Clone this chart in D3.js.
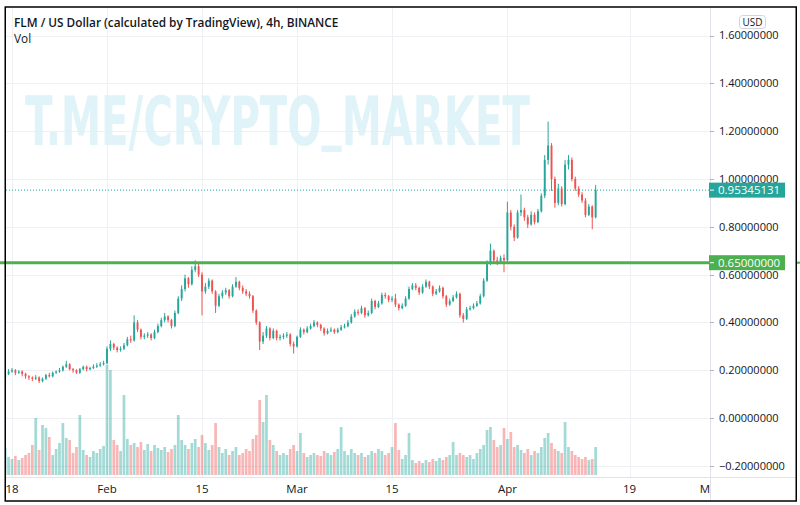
<!DOCTYPE html>
<html><head><meta charset="utf-8">
<script src="https://cdn.jsdelivr.net/npm/d3@7"></script>
<style>html,body{margin:0;padding:0;background:#fff;}svg{display:block;}</style>
</head><body><svg id="c" width="800" height="505"></svg>
<script>
// ---- data (12h candles) ----
const startDate = "2021-01-17T00:00:00Z";
const firstOpen = 0.17;
const closes = [
0.185,0.195,0.20,0.19,0.195,0.185,0.175,0.17,0.165,0.17,
0.155,0.165,0.18,0.175,0.19,0.195,0.20,0.215,0.225,0.205,
0.20,0.19,0.205,0.215,0.205,0.21,0.215,0.22,0.225,0.23,
0.29,0.31,0.295,0.285,0.29,0.305,0.33,0.325,0.40,0.37,
0.34,0.345,0.35,0.335,0.36,0.385,0.41,0.425,0.41,0.385,
0.44,0.50,0.54,0.585,0.56,0.62,0.635,0.60,0.53,0.55,
0.575,0.53,0.47,0.51,0.525,0.535,0.51,0.55,0.57,0.545,
0.53,0.52,0.51,0.45,0.40,0.32,0.345,0.375,0.335,0.365,
0.335,0.34,0.345,0.35,0.31,0.30,0.34,0.37,0.36,0.375,
0.385,0.40,0.39,0.375,0.355,0.365,0.37,0.36,0.37,0.38,
0.385,0.40,0.425,0.445,0.44,0.46,0.43,0.44,0.49,0.465,
0.48,0.515,0.51,0.495,0.50,0.475,0.46,0.47,0.50,0.54,
0.555,0.545,0.525,0.55,0.57,0.55,0.52,0.53,0.545,0.51,
0.475,0.49,0.505,0.52,0.43,0.415,0.455,0.46,0.47,0.48,
0.51,0.575,0.65,0.70,0.66,0.655,0.67,0.66,0.86,0.80,
0.755,0.86,0.87,0.84,0.81,0.85,0.82,0.865,0.93,1.08,
1.14,1.00,0.90,0.96,0.895,1.06,1.08,1.00,0.96,0.935,
0.91,0.85,0.885,0.84,0.95345131];
const highs = [
0.20,0.205,0.21,0.205,0.20,0.20,0.19,0.18,0.175,0.18,
0.175,0.17,0.185,0.19,0.195,0.20,0.21,0.22,0.24,0.23,
0.21,0.205,0.21,0.22,0.22,0.215,0.225,0.23,0.235,0.24,
0.30,0.325,0.315,0.30,0.30,0.315,0.34,0.345,0.43,0.41,
0.375,0.355,0.36,0.355,0.37,0.395,0.42,0.44,0.43,0.415,
0.45,0.51,0.555,0.60,0.59,0.635,0.66,0.645,0.61,0.565,
0.585,0.58,0.535,0.52,0.535,0.545,0.54,0.56,0.59,0.575,
0.555,0.54,0.53,0.515,0.455,0.405,0.36,0.385,0.38,0.375,
0.37,0.35,0.355,0.36,0.355,0.32,0.345,0.38,0.375,0.385,
0.395,0.41,0.405,0.395,0.38,0.375,0.38,0.375,0.378,0.39,
0.395,0.41,0.435,0.455,0.455,0.47,0.465,0.45,0.50,0.495,
0.49,0.525,0.525,0.515,0.51,0.52,0.48,0.48,0.51,0.55,
0.565,0.565,0.55,0.56,0.58,0.575,0.555,0.54,0.555,0.55,
0.515,0.50,0.515,0.53,0.525,0.44,0.465,0.47,0.48,0.49,
0.52,0.585,0.66,0.73,0.705,0.675,0.68,0.685,0.905,0.87,
0.81,0.87,0.935,0.88,0.85,0.865,0.86,0.875,0.94,1.10,
1.24,1.15,1.01,0.98,0.97,1.08,1.10,1.09,1.01,0.97,
0.945,0.92,0.895,0.89,0.975];
const lows = [
0.165,0.18,0.19,0.18,0.185,0.175,0.165,0.16,0.155,0.16,
0.147,0.15,0.16,0.17,0.17,0.185,0.19,0.195,0.21,0.20,
0.19,0.185,0.185,0.20,0.195,0.20,0.205,0.21,0.215,0.22,
0.225,0.28,0.285,0.275,0.278,0.285,0.30,0.315,0.32,0.36,
0.33,0.33,0.335,0.325,0.33,0.355,0.38,0.40,0.40,0.375,
0.38,0.435,0.49,0.53,0.545,0.555,0.61,0.59,0.43,0.52,
0.54,0.52,0.44,0.465,0.50,0.515,0.50,0.505,0.545,0.535,
0.52,0.51,0.50,0.44,0.39,0.285,0.31,0.335,0.325,0.33,
0.325,0.325,0.33,0.335,0.30,0.27,0.295,0.335,0.35,0.355,
0.37,0.38,0.38,0.365,0.345,0.35,0.36,0.352,0.355,0.365,
0.375,0.38,0.395,0.42,0.43,0.435,0.42,0.425,0.435,0.455,
0.46,0.475,0.50,0.485,0.485,0.465,0.45,0.455,0.465,0.495,
0.535,0.535,0.515,0.52,0.545,0.54,0.51,0.515,0.525,0.50,
0.465,0.47,0.485,0.50,0.42,0.40,0.41,0.45,0.455,0.465,
0.475,0.505,0.57,0.64,0.645,0.64,0.645,0.61,0.655,0.785,
0.74,0.75,0.845,0.825,0.795,0.805,0.81,0.815,0.86,0.92,
1.06,0.95,0.88,0.89,0.885,0.89,1.04,0.99,0.95,0.925,
0.90,0.84,0.845,0.79,0.835];
const volumes = [
2.7,1.8,1.6,1.9,1.5,1.7,2.0,2.2,3.0,5.7,
2.5,5.0,4.7,3.8,2.0,2.6,3.2,5.2,3.7,3.5,
2.2,2.8,6.0,2.5,2.0,1.8,2.4,2.2,2.6,2.9,
11.0,10.5,3.5,3.0,2.4,8.0,3.6,3.0,3.2,2.8,
3.3,2.5,3.1,2.4,3.0,2.7,2.5,2.8,2.3,2.6,
3.0,6.0,3.5,3.0,2.6,3.2,3.6,2.8,4.0,3.2,
2.5,3.0,5.2,2.8,2.2,2.6,2.0,2.4,2.8,2.0,
2.2,2.6,2.4,3.6,4.0,7.5,5.3,8.0,3.5,3.0,
2.4,2.0,2.2,2.0,2.6,3.0,2.4,4.2,2.2,1.8,
2.0,2.2,2.0,1.9,2.4,2.2,2.0,2.3,2.6,4.8,
2.4,2.0,2.6,2.2,2.0,2.2,1.8,2.0,2.4,2.2,
2.6,2.4,2.0,2.2,2.8,5.2,2.5,1.6,2.0,4.2,
1.5,1.2,1.4,1.2,1.5,1.3,1.6,1.4,1.7,1.5,
1.8,2.0,3.3,2.0,2.2,2.0,1.8,2.0,1.6,2.2,
2.6,3.0,4.5,4.8,3.5,2.8,3.0,4.7,3.6,4.3,
2.8,3.0,2.5,2.2,2.6,2.0,2.4,2.2,2.8,3.7,
4.2,3.2,2.6,2.4,2.2,5.3,2.8,2.4,2.0,1.8,
1.6,1.8,1.5,1.6,2.8];
const priceTicks = [1.6,1.4,1.2,1.0,0.8,0.6,0.4,0.2,0,-0.2];
const timeTickDates = ["2021-01-18","2021-02-01","2021-02-15","2021-03-01","2021-03-15","2021-04-01","2021-04-19","2021-05-01"];
const timeTickLabels = ["18","Feb","15","Mar","15","Apr","19","May"];
const lastPrice = 0.95345131;
const levelPrice = 0.65;
const titleText = "FLM / US Dollar (calculated by TradingView), 4h, BINANCE";
const subTitle = "Vol";
const watermarkParts = ["T.ME/CRYPTO", "_", "MARKET"];

// ---- build ----
const t0 = new Date(startDate).getTime();
const H12 = 12*3600*1000;
const candles = closes.map((c,i)=>({
  t:new Date(t0+i*H12), o: i===0?firstOpen:closes[i-1], c, h:highs[i], l:lows[i], v:volumes[i]
}));

const W=800,Hh=505;
const plotL=6, plotR=710, plotT=8, plotB=477;
const svg=d3.select("#c");
const font="'Open Sans','Noto Sans',sans-serif";
const UP="#26a69a", DN="#ef5350";

const x=d3.scaleUtc().domain([new Date("2021-01-17T00:00:00Z"),new Date("2021-05-01T00:00:00Z")]).range([5.2,711]);
const y=d3.scaleLinear().domain([-0.2,1.6]).range([466,35.5]);
const yv=d3.scaleLinear().domain([0,11]).range([475,365]);

svg.append("rect").attr("width",W).attr("height",Hh).attr("fill","#fff");
const defs=svg.append("defs");
defs.append("clipPath").attr("id","plot").append("rect").attr("x",plotL).attr("y",plotT).attr("width",plotR-plotL).attr("height",plotB-plotT);
defs.append("clipPath").attr("id","taxis").append("rect").attr("x",plotL).attr("y",plotB).attr("width",plotR-plotL).attr("height",24);

const g=svg.append("g").attr("clip-path","url(#plot)");
// grid
g.selectAll("line.hg").data(priceTicks).join("line").attr("class","hg")
 .attr("x1",plotL).attr("x2",plotR).attr("y1",d=>Math.round(y(d))+0.5).attr("y2",d=>Math.round(y(d))+0.5)
 .attr("stroke","#eef0f4").attr("stroke-width",1);
g.selectAll("line.vg").data(timeTickDates).join("line").attr("class","vg")
 .attr("x1",d=>Math.round(x(new Date(d+"T00:00:00Z")))+0.5).attr("x2",d=>Math.round(x(new Date(d+"T00:00:00Z")))+0.5)
 .attr("y1",plotT).attr("y2",plotB).attr("stroke","#eef0f4").attr("stroke-width",1);

// watermark (fit to reference box 25..530 wide, cap height ~50)
const wm=g.append("text").attr("x",0).attr("y",0)
 .attr("font-family","'Liberation Sans Narrow','DejaVu Sans Condensed','Roboto',sans-serif")
 .attr("font-weight","bold").attr("font-size",68).attr("fill","#d9f1f8").attr("fill-opacity",0.85);
wm.append("tspan").text(watermarkParts[0]);
wm.append("tspan").attr("dy",-9).text(watermarkParts[1]);
wm.append("tspan").attr("dy",9).text(watermarkParts[2]);
const wmW=wm.node().getComputedTextLength()||505;
wm.attr("transform",`translate(25,145) scale(${505/wmW},1)`);

// volume
const bw=x(new Date(t0+H12))-x(new Date(t0));
g.selectAll("rect.vol").data(candles).join("rect").attr("class","vol")
 .attr("x",d=>x(d.t)-bw*0.4).attr("width",bw*0.8)
 .attr("y",d=>yv(d.v)).attr("height",d=>yv(0)-yv(d.v))
 .attr("fill",d=>d.c>=d.o?UP:DN).attr("fill-opacity",0.42);

// candles
const cg=g.append("g");
cg.selectAll("line.wick").data(candles).join("line").attr("class","wick")
 .attr("x1",d=>x(d.t)).attr("x2",d=>x(d.t)).attr("y1",d=>y(d.h)).attr("y2",d=>y(d.l))
 .attr("stroke",d=>d.c>=d.o?UP:DN).attr("stroke-width",1);
cg.selectAll("rect.body").data(candles).join("rect").attr("class","body")
 .attr("x",d=>x(d.t)-bw*0.28).attr("width",bw*0.56)
 .attr("y",d=>y(Math.max(d.o,d.c))).attr("height",d=>Math.max(1,Math.abs(y(d.o)-y(d.c))))
 .attr("fill",d=>d.c>=d.o?UP:DN);

// last price dotted line
g.append("line").attr("x1",plotL).attr("x2",plotR).attr("y1",y(lastPrice)).attr("y2",y(lastPrice))
 .attr("stroke",UP).attr("stroke-width",1).attr("stroke-dasharray","1,2");
// level line
svg.append("line").attr("x1",0).attr("x2",plotR).attr("y1",y(levelPrice)).attr("y2",y(levelPrice))
 .attr("stroke","#4caf50").attr("stroke-width",3);
svg.append("line").attr("x1",797).attr("x2",800).attr("y1",y(levelPrice)).attr("y2",y(levelPrice))
 .attr("stroke","#4caf50").attr("stroke-width",2);

// axes separators
svg.append("line").attr("x1",plotR+0.5).attr("x2",plotR+0.5).attr("y1",plotT).attr("y2",501).attr("stroke","#e0e3eb");
svg.append("line").attr("x1",plotL).attr("x2",796).attr("y1",plotB+0.5).attr("y2",plotB+0.5).attr("stroke","#e0e3eb");

// price axis
const pa=svg.append("g");
pa.selectAll("line.tk").data(priceTicks).join("line").attr("class","tk")
 .attr("x1",plotR).attr("x2",plotR+4).attr("y1",d=>Math.round(y(d))+0.5).attr("y2",d=>Math.round(y(d))+0.5).attr("stroke","#b2b5be");
pa.selectAll("text").data(priceTicks).join("text")
 .attr("x",719).attr("y",d=>y(d)).attr("dy","0.35em")
 .attr("font-family",font).attr("font-size",11).attr("fill","#131722")
 .text(d=>d3.format(".8f")(d).replace("-","\u2212"));

// USD box
svg.append("rect").attr("x",739.5).attr("y",15.5).attr("width",26).attr("height",13).attr("rx",3)
 .attr("fill","#fff").attr("stroke","#d1d4dc");
svg.append("text").attr("x",752.5).attr("y",22).attr("dy","0.35em").attr("text-anchor","middle")
 .attr("font-family",font).attr("font-size",10).attr("fill","#131722").text("USD");

// price labels
function tag(v,color){
  const yy=y(v);
  svg.append("rect").attr("x",709).attr("y",yy-7.5).attr("width",76).attr("height",15).attr("fill",color);
  svg.append("line").attr("x1",710).attr("x2",714).attr("y1",yy).attr("y2",yy).attr("stroke","#fff");
  svg.append("text").attr("x",718).attr("y",yy).attr("dy","0.36em").attr("font-family",font)
   .attr("font-size",11.5).attr("fill","#fff").text(d3.format(".8f")(v));
}
tag(lastPrice,UP);
tag(levelPrice,"#4caf50");

// time axis
const ta=svg.append("g").attr("clip-path","url(#taxis)");
ta.selectAll("text").data(timeTickDates).join("text")
 .attr("x",(d)=>x(new Date(d+"T00:00:00Z"))).attr("y",489).attr("dy","0.35em").attr("text-anchor","middle")
 .attr("font-family",font).attr("font-size",11.5).attr("fill","#131722")
 .text((d,i)=>timeTickLabels[i]);

// titles
svg.append("text").attr("x",14).attr("y",27).attr("font-family",font).attr("font-size",11.8).attr("font-weight",600).attr("fill","#131722").text(titleText);
svg.append("text").attr("x",14).attr("y",43).attr("font-family",font).attr("font-size",11.8).attr("fill","#131722").text(subTitle);

// frame
svg.append("rect").attr("x",5.25).attr("y",7).attr("width",791).attr("height",494).attr("fill","none").attr("stroke","#000").attr("stroke-width",1.5);
</script></body></html>
